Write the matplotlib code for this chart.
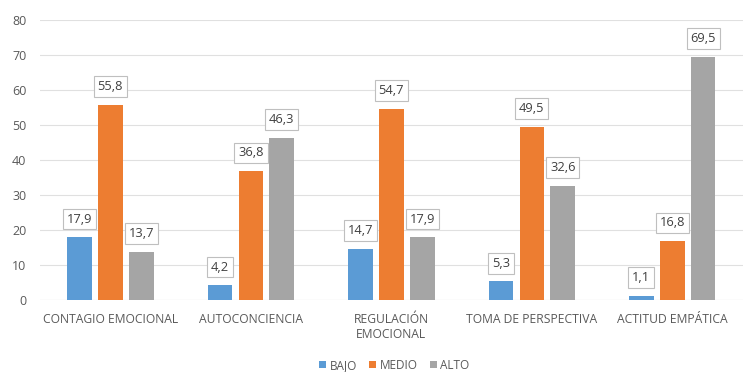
import matplotlib
matplotlib.use("Agg")
import matplotlib.pyplot as plt
import numpy as np

categories = ["CONTAGIO EMOCIONAL", "AUTOCONCIENCIA", "REGULACIÓN\nEMOCIONAL",
              "TOMA DE PERSPECTIVA", "ACTITUD EMPÁTICA"]
bajo = [17.9, 4.2, 14.7, 5.3, 1.1]
medio = [55.8, 36.8, 54.7, 49.5, 16.8]
alto = [13.7, 46.3, 17.9, 32.6, 69.5]
series_names = ["BAJO", "MEDIO", "ALTO"]
colors = ["#5B9BD5", "#ED7D31", "#A5A5A5"]
yticks = [0, 10, 20, 30, 40, 50, 60, 70, 80]

plt.rcParams['font.family'] = ['Open Sans', 'DejaVu Sans']
text_color = "#595959"

fig = plt.figure(figsize=(7.44, 3.72), dpi=100)
ax = fig.add_axes([0.054, 0.1935, 0.944, 0.7525])

x = np.arange(len(categories))
width = 0.175
offset = 0.22
for i, (vals, name, col) in enumerate(zip([bajo, medio, alto], series_names, colors)):
    pos = x + (i - 1) * offset
    ax.bar(pos, vals, width, color=col, label=name, zorder=3)
    for xp, v in zip(pos, vals):
        ax.annotate(f"{v:.1f}".replace(".", ","), (xp, v), xytext=(0, 8.5),
                    textcoords="offset points", ha="center", va="bottom",
                    fontsize=9.3, color="#404040", zorder=4,
                    bbox=dict(boxstyle="square,pad=0.3", fc="white", ec="#BFBFBF", lw=0.8))

ax.set_xlim(-0.5, len(categories) - 0.5)
ax.set_ylim(0, 80)
ax.set_yticks(yticks)
ax.set_xticks(x)
ax.set_xticklabels(categories, fontsize=8.7, color=text_color, linespacing=1.25)
ax.tick_params(axis="y", labelsize=9, colors=text_color, length=0, pad=10)
ax.tick_params(axis="x", length=0, pad=9)
ax.grid(axis="y", color="#E0E0E0", lw=0.8, zorder=0)
for s in ax.spines.values():
    s.set_visible(False)
ax.axhline(0, color="#D9D9D9", lw=0.8, zorder=2)

leg = fig.legend(loc="center", bbox_to_anchor=(0.53, 0.018), ncol=3, frameon=False,
                 fontsize=8.5, handlelength=0.6, handleheight=0.6, handletextpad=0.3,
                 columnspacing=1.0)
for t in leg.get_texts():
    t.set_color(text_color)

fig.savefig("out.png", dpi=100, facecolor="white")
